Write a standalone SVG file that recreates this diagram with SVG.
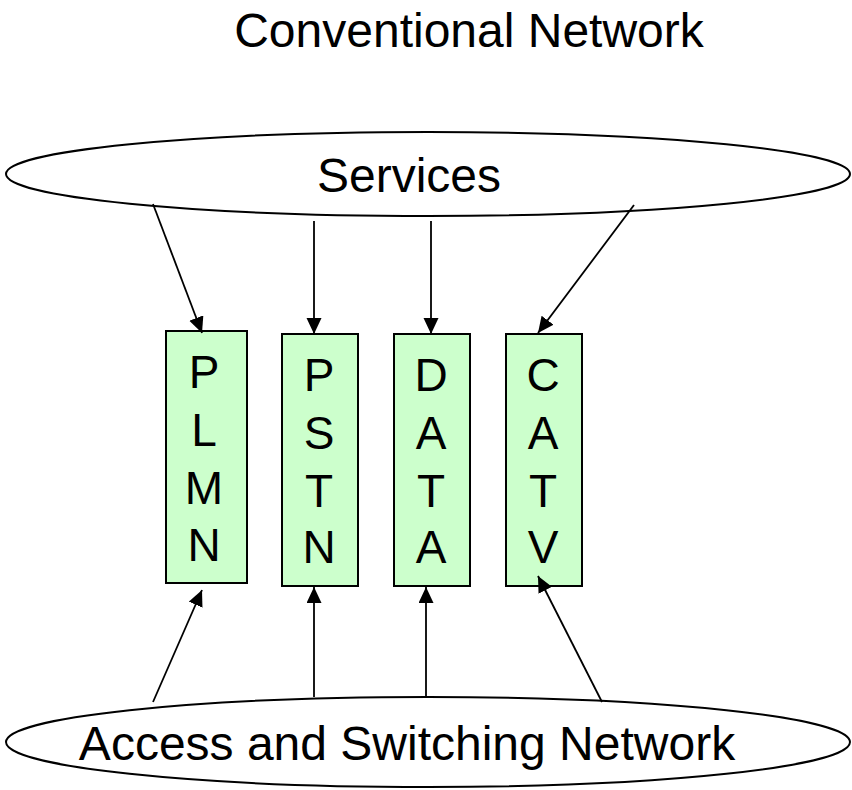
<svg xmlns="http://www.w3.org/2000/svg" width="852" height="790" viewBox="0 0 852 790">
<style>
.t{font-family:"Liberation Sans",Arial,sans-serif;fill:#000;text-anchor:middle}
.big{font-size:48px}
.let{font-size:46px}
.box{fill:#CCFFCC;stroke:#000;stroke-width:2}
.ell{fill:#fff;stroke:#000;stroke-width:2}
.c{stroke:#000;stroke-width:1.8;fill:none;marker-end:url(#ah)}
</style>
<defs>
<marker id="ah" markerUnits="userSpaceOnUse" markerWidth="18" markerHeight="16" refX="16" refY="7.5" orient="auto">
<path d="M0,0 L16,7.5 L0,15 Z" fill="#000"/>
</marker>
</defs>
<rect width="852" height="790" fill="#fff"/>
<text class="t big" x="469" y="47">Conventional Network</text>
<g id="services">
<ellipse class="ell" cx="428" cy="174" rx="422" ry="42"/>
<text class="t big" x="409" y="192">Services</text>
</g>
<g id="access">
<ellipse class="ell" cx="428" cy="742" rx="422" ry="45"/>
<text class="t big" x="407" y="760">Access and Switching Network</text>
</g>
<g id="plmn">
<rect class="box" x="166" y="331" width="81" height="252"/>
<text class="t let" x="204" y="388">P</text>
<text class="t let" x="204" y="446">L</text>
<text class="t let" x="204" y="504">M</text>
<text class="t let" x="204" y="561">N</text>
</g>
<g id="pstn">
<rect class="box" x="282" y="334" width="76" height="252"/>
<text class="t let" x="319" y="391">P</text>
<text class="t let" x="319" y="449">S</text>
<text class="t let" x="319" y="507">T</text>
<text class="t let" x="319" y="563">N</text>
</g>
<g id="data">
<rect class="box" x="394" y="334" width="76" height="252"/>
<text class="t let" x="431" y="391">D</text>
<text class="t let" x="431" y="449">A</text>
<text class="t let" x="431" y="507">T</text>
<text class="t let" x="431" y="563">A</text>
</g>
<g id="catv">
<rect class="box" x="506" y="334" width="76" height="252"/>
<text class="t let" x="543" y="391">C</text>
<text class="t let" x="543" y="449">A</text>
<text class="t let" x="543" y="507">T</text>
<text class="t let" x="543" y="563">V</text>
</g>
<g id="connectors">
<line class="c" x1="153" y1="204" x2="202" y2="333"/>
<line class="c" x1="314" y1="221" x2="314" y2="334"/>
<line class="c" x1="431" y1="221" x2="431" y2="334"/>
<line class="c" x1="634" y1="205" x2="538" y2="333"/>
<line class="c" x1="153" y1="702" x2="202" y2="590"/>
<line class="c" x1="314" y1="697" x2="314" y2="587"/>
<line class="c" x1="426" y1="698" x2="426" y2="587"/>
<line class="c" x1="602" y1="702" x2="538" y2="576"/>
</g>
</svg>
